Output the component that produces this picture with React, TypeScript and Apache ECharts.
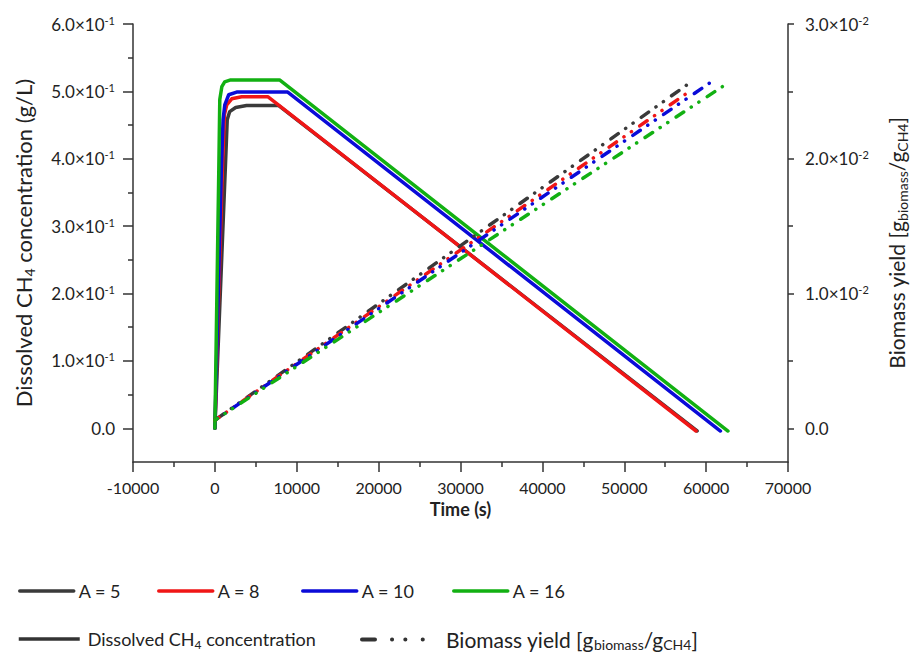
import React, { useEffect, useRef } from 'react';
import * as echarts from 'echarts';

// Legend names / colours
const seriesNames = ['A = 5', 'A = 8', 'A = 10', 'A = 16'];
const seriesColors = ['#3a3a3a', '#f01616', '#0b0bd8', '#12b012'];

// Dissolved CH4 concentration (g/L) vs time (s)
const ch4A5 = [[0, 0], [1270, 0.384], [1510, 0.458], [1810, 0.47], [2540, 0.476], [3870, 0.479], [7800, 0.479], [58900, -0.004]];
const ch4A8 = [[0, 0], [910, 0.384], [1170, 0.466], [1450, 0.48], [2060, 0.489], [3270, 0.492], [6500, 0.492], [58770, -0.004]];
const ch4A10 = [[0, 0], [790, 0.384], [1000, 0.458], [1210, 0.48], [1690, 0.495], [2660, 0.499], [8900, 0.499], [61750, -0.004]];
const ch4A16 = [[0, 0], [480, 0.384], [600, 0.488], [850, 0.507], [1200, 0.514], [1930, 0.517], [7900, 0.517], [62670, -0.004]];

// Biomass yield (g biomass / g CH4) vs time (s)
const yieldA5 = [[0, 0.0006], [58040, 0.02565]];
const yieldA8 = [[0, 0.0006], [57920, 0.02498]];
const yieldA10 = [[0, 0.0006], [60860, 0.0258]];
const yieldA16 = [[0, 0.0006], [62480, 0.02555]];

const ch4Data = [ch4A5, ch4A8, ch4A10, ch4A16];
const yieldData = [yieldA5, yieldA8, yieldA10, yieldA16];
// dash phase so that each dash-dot-dot line finishes on a dot, as in the figure
const yieldDashOffsets = [35.25, 4.05, 14.95, 5.65];

// Axis ticks
const leftTicks = [0, 0.1, 0.2, 0.3, 0.4, 0.5, 0.6];
const leftMinorTicks = [0.05, 0.15, 0.25, 0.35, 0.45, 0.55];
const rightTicks = [0, 0.01, 0.02, 0.03];
const rightMinorTicks = [0.005, 0.015, 0.025];

const FONT = 'Lato';
const TEXT = '#222222';
const AXIS = '#333333';
const DASH_DOT = [9, 9, 0.1, 9, 0.1, 10];

const supRich = {
  b: { fontFamily: FONT, fontSize: 17, color: TEXT, lineHeight: 19 },
  s: { fontFamily: FONT, fontSize: 11, color: TEXT, verticalAlign: 'top', lineHeight: 11 },
};

export default function App() {
  const ref = useRef<HTMLDivElement>(null);
  useEffect(() => {
    const chart = echarts.init(ref.current!, null, { renderer: 'svg' });

    const solidSeries = ch4Data.map((d, i) => ({
      name: seriesNames[i],
      type: 'line',
      yAxisIndex: 0,
      data: d,
      symbol: 'none',
      lineStyle: { color: seriesColors[i], width: 3.5, join: 'round', cap: 'round' },
      itemStyle: { color: seriesColors[i] },
    }));
    const dashSeries = yieldData.map((d, i) => ({
      name: seriesNames[i],
      type: 'line',
      yAxisIndex: 2,
      data: d,
      symbol: 'none',
      lineStyle: {
        color: seriesColors[i],
        width: 3.5,
        type: DASH_DOT,
        dashOffset: yieldDashOffsets[i],
        cap: 'round',
      },
      itemStyle: { color: seriesColors[i] },
    }));

    const row1Left = [18, 157, 301, 452];
    const legendText = { fontFamily: FONT, fontSize: 18, color: TEXT };
    const noSymbol = { opacity: 0 };

    const option: any = {
      animation: false,
      backgroundColor: '#ffffff',
      textStyle: { fontFamily: FONT },
      grid: { left: 133, top: 24, width: 662, height: 438, containLabel: false },
      xAxis: {
        type: 'value',
        min: -10000,
        max: 70000,
        interval: 10000,
        name: 'Time (s)',
        nameLocation: 'middle',
        nameGap: 38,
        nameTextStyle: { fontFamily: FONT, fontSize: 18, fontWeight: 'bold', color: TEXT },
        axisLine: { show: true, onZero: false, lineStyle: { color: AXIS, width: 1.5 } },
        axisTick: { show: true, inside: false, length: 10, lineStyle: { color: AXIS, width: 1.5 } },
        minorTick: { show: true, splitNumber: 2, length: 5, lineStyle: { color: AXIS, width: 1.5 } },
        axisLabel: { fontFamily: FONT, fontSize: 16, color: TEXT, margin: 17, formatter: (v: number) => String(v) },
        splitLine: { show: false },
      },
      yAxis: [
        {
          type: 'value',
          position: 'left',
          min: -0.05,
          max: 0.6,
          name: '{n|Dissolved CH}{sub|4}{n| concentration (g/L)}',
          nameLocation: 'middle',
          nameRotate: 90,
          nameGap: 97,
          nameTextStyle: {
            rich: {
              n: { fontFamily: FONT, fontSize: 22, color: TEXT, lineHeight: 26 },
              sub: { fontFamily: FONT, fontSize: 14, color: TEXT, verticalAlign: 'bottom', lineHeight: 14 },
            },
          },
          axisLine: { show: true, onZero: false, lineStyle: { color: AXIS, width: 1.5 } },
          axisTick: { show: true, inside: false, length: 10, customValues: leftTicks, lineStyle: { color: AXIS, width: 1.5 } },
          axisLabel: {
            customValues: leftTicks,
            margin: 18,
            formatter: (v: number) => (v === 0 ? '{b|0.0}' : `{b|${(v * 10).toFixed(1)}×10}{s|-1}`),
            rich: supRich,
          },
          splitLine: { show: false },
        },
        {
          type: 'value',
          position: 'left',
          min: -0.05,
          max: 0.6,
          axisLine: { show: false, onZero: false },
          axisTick: { show: true, inside: false, length: 5, customValues: leftMinorTicks, lineStyle: { color: AXIS, width: 1.5 } },
          axisLabel: { show: false },
          splitLine: { show: false },
        },
        {
          type: 'value',
          position: 'right',
          min: -0.0025,
          max: 0.03,
          name: '{n|Biomass yield [g}{sub|biomass}{n|/g}{sub|CH4}{n|]}',
          nameLocation: 'middle',
          nameRotate: 90,
          nameGap: 96,
          nameTextStyle: {
            rich: {
              n: { fontFamily: FONT, fontSize: 21, color: TEXT, lineHeight: 25 },
              sub: { fontFamily: FONT, fontSize: 14, color: TEXT, verticalAlign: 'bottom', lineHeight: 14 },
            },
          },
          axisLine: { show: true, onZero: false, lineStyle: { color: AXIS, width: 1.5 } },
          axisTick: { show: true, inside: false, length: 6, customValues: rightTicks, lineStyle: { color: AXIS, width: 1.5 } },
          axisLabel: {
            customValues: rightTicks,
            margin: 17,
            formatter: (v: number) => (v === 0 ? '{b|0.0}' : `{b|${(v * 100).toFixed(1)}×10}{s|-2}`),
            rich: supRich,
          },
          splitLine: { show: false },
        },
        {
          type: 'value',
          position: 'right',
          min: -0.0025,
          max: 0.03,
          axisLine: { show: false, onZero: false },
          axisTick: { show: true, inside: false, length: 5, customValues: rightMinorTicks, lineStyle: { color: AXIS, width: 1.5 } },
          axisLabel: { show: false },
          splitLine: { show: false },
        },
      ],
      legend: [
        ...seriesNames.map((n, i) => ({
          data: [n],
          left: row1Left[i],
          top: 582,
          padding: 0,
          itemWidth: 54,
          itemHeight: 14,
          itemStyle: noSymbol,
          lineStyle: { width: 3.5 },
          textStyle: legendText,
        })),
        {
          data: ['Dissolved CH4 concentration'],
          left: 17,
          top: 630,
          padding: 0,
          itemWidth: 61,
          itemHeight: 14,
          itemStyle: noSymbol,
          lineStyle: { width: 3.5 },
          formatter: () => '{p|}{n|Dissolved CH}{sub|4}{n| concentration}',
          textStyle: {
            ...legendText,
            rich: {
              p: { width: 3 },
              n: { fontFamily: FONT, fontSize: 18, color: TEXT, lineHeight: 22 },
              sub: { fontFamily: FONT, fontSize: 12, color: TEXT, verticalAlign: 'bottom', lineHeight: 12 },
            },
          },
        },
        {
          data: ['Biomass yield'],
          left: 360,
          top: 629,
          padding: 0,
          itemWidth: 63,
          itemHeight: 14,
          itemStyle: noSymbol,
          lineStyle: { width: 4, type: [13, 17, 0.1, 13.2, 0.1, 17.3, 0.1, 100], cap: 'round' },
          formatter: () => '{p|}{n|Biomass yield [g}{sub|biomass}{n|/g}{sub|CH4}{n|]}',
          textStyle: {
            ...legendText,
            rich: {
              p: { width: 16 },
              n: { fontFamily: FONT, fontSize: 21, color: TEXT, lineHeight: 24 },
              sub: { fontFamily: FONT, fontSize: 14, color: TEXT, verticalAlign: 'bottom', lineHeight: 14 },
            },
          },
        },
      ],
      series: [
        ...solidSeries,
        ...dashSeries,
        {
          name: 'Dissolved CH4 concentration',
          type: 'line',
          data: [],
          symbol: 'none',
          lineStyle: { color: '#333333', width: 3.5 },
          itemStyle: { color: '#333333' },
        },
        {
          name: 'Biomass yield',
          type: 'line',
          data: [],
          symbol: 'none',
          lineStyle: { color: '#333333', width: 4, type: [13, 17, 0.1, 13.2, 0.1, 17.3, 0.1, 100], cap: 'round' },
          itemStyle: { color: '#333333' },
        },
      ],
    };

    chart.setOption(option);
    return () => chart.dispose();
  }, []);

  return (
    <div
      ref={ref}
      style={{ position: 'absolute', left: 0, top: 0, width: 917, height: 659, background: '#fff' }}
    />
  );
}
